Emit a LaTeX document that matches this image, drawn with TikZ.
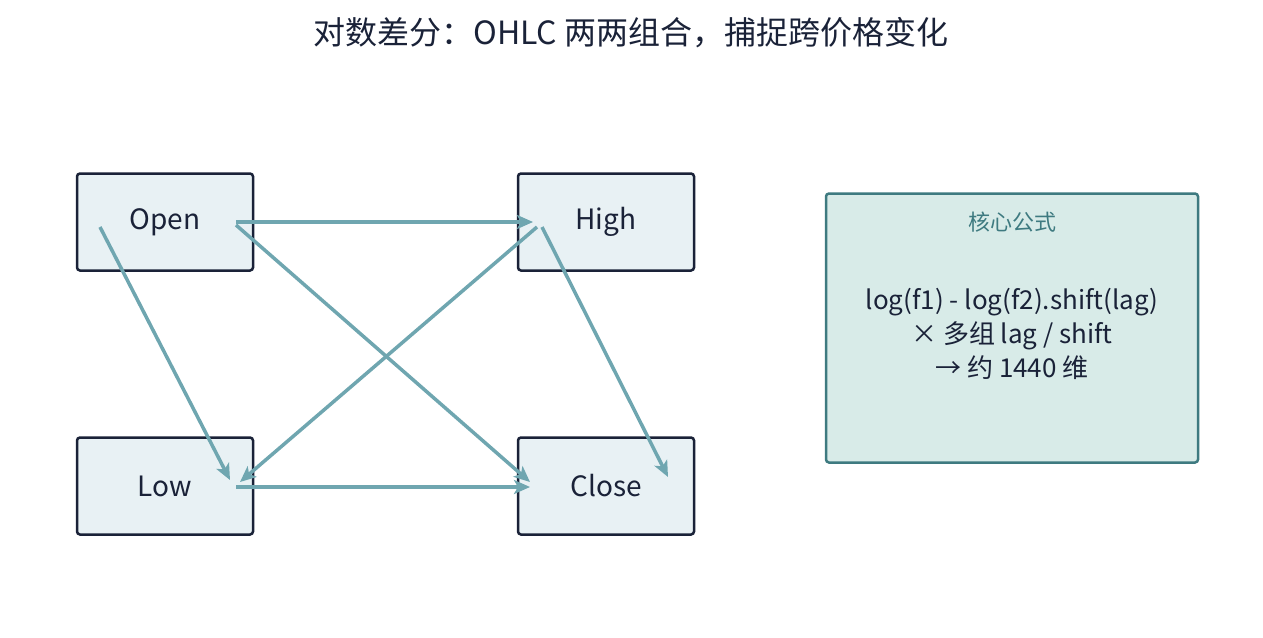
\documentclass[tikz,border=0pt]{standalone}
\usepackage{fontspec}
\setmainfont{Noto Sans CJK SC}
\usetikzlibrary{arrows.meta}
\definecolor{nodefill}{HTML}{E8F1F4}
\definecolor{nodeline}{HTML}{1A2238}
\definecolor{arr}{HTML}{6FA6B0}
\definecolor{boxfill}{HTML}{D8EBE8}
\definecolor{boxline}{HTML}{3E7A80}
\begin{document}
\begin{tikzpicture}[x=1pt,y=-1pt,
  box/.style={draw=nodeline,fill=nodefill,line width=2.5pt,rounded corners=3pt,minimum width=176pt,minimum height=97pt,font=\fontsize{28}{32}\selectfont,text=nodeline},
  conn/.style={draw=arr,line width=3.5pt,-{Stealth[length=16pt,width=14pt,inset=4pt]}}]
\useasboundingbox (0,0) rectangle (1263,637);
\node[font=\fontsize{32}{36}\selectfont,text=nodeline] (title) at (631,33) {对数差分：OHLC 两两组合，捕捉跨价格变化};
\node[box] (open) at (165,222) {Open};
\node[box] (high) at (606,222) {High};
\node[box] (low) at (165,486) {Low};
\node[box] (close) at (606,486) {Close};
\node[draw=boxline,fill=boxfill,line width=2.5pt,rounded corners=3pt,minimum width=372pt,minimum height=269pt] (formula) at (1012,328) {};
\node[text=boxline,font=\fontsize{22}{26}\selectfont] (ftitle) at (1012,222) {核心公式};
\node[text=nodeline,font=\fontsize{26}{34}\selectfont,align=center] (ftext) at (1012,334) {log(f1) - log(f2).shift(lag)\\× 多组 lag / shift\\→ 约 1440 维};
\coordinate (o1) at (236,222); \coordinate (h1) at (533,222);
\coordinate (o2) at (100,227); \coordinate (l1) at (230,480);
\coordinate (o3) at (236,225); \coordinate (c1) at (530,482);
\coordinate (h2) at (537,227); \coordinate (l2) at (240,482);
\coordinate (h3) at (542,227); \coordinate (c2) at (668,477);
\coordinate (l3) at (236,487); \coordinate (c3) at (530,487);
\draw[conn] (o1) -- (h1);
\draw[conn] (o2) -- (l1);
\draw[conn] (o3) -- (c1);
\draw[conn] (h2) -- (l2);
\draw[conn] (h3) -- (c2);
\draw[conn] (l3) -- (c3);
\end{tikzpicture}
\end{document}
